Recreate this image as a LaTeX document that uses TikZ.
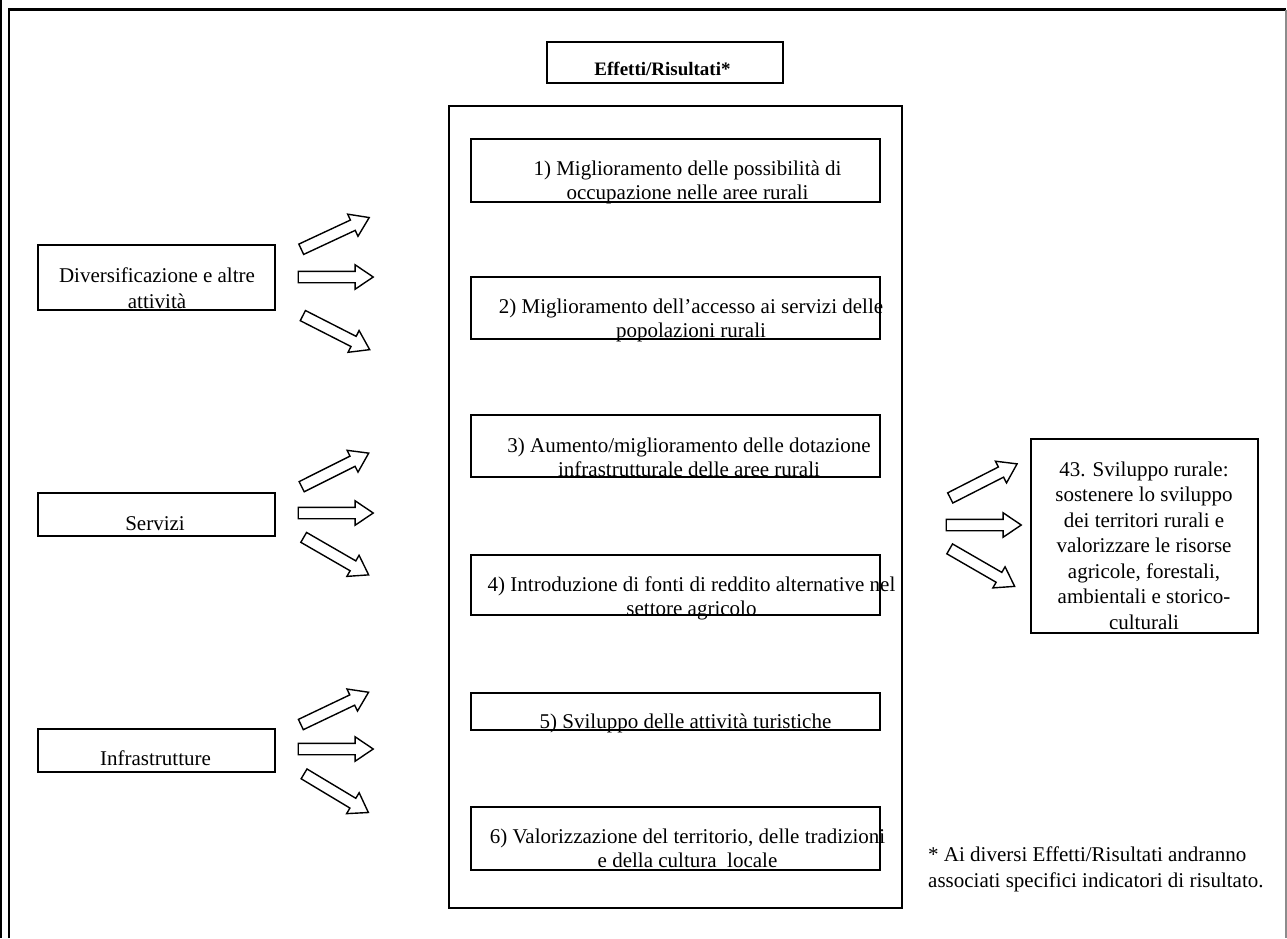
\documentclass[tikz,border=0pt]{standalone}
\usepackage{fontspec}
\setmainfont{Liberation Serif}
\usetikzlibrary{shapes.arrows}
\begin{document}
\begin{tikzpicture}[x=1pt,y=-1pt,
  box/.style={draw, line width=1.6pt, inner sep=0pt},
  txt/.style={font=\fontsize{21}{24}\selectfont, align=center, inner sep=0pt, anchor=base},
  barrow/.style={single arrow, draw, line width=1.4pt, minimum height=75pt,
    inner xsep=0pt, inner ysep=5pt, text height=0pt, text depth=0pt,
    single arrow head extend=6.5pt, single arrow tip angle=68, anchor=center}]
\useasboundingbox (0,0) rectangle (1287,938);
% frame
\draw[line width=2.2pt] (1,0) -- (1,938);
\draw[line width=2.4pt] (8.8,938) -- (8.8,9.5) -- (1286,9.5);
\draw[line width=1.2pt, black!45] (1286,9.5) -- (1286,938);

% title
\node[box, minimum width=236pt, minimum height=41pt] (title) at (665,62.5) {};
\node[font=\fontsize{19}{22}\selectfont\bfseries, inner sep=0pt, anchor=base] (titletxt) at (662.5,75) {Effetti/Risultati*};

% big container
\node[box, minimum width=453pt, minimum height=802pt] (cont) at (675.5,507) {};

% effect boxes
\node[box, minimum width=409pt, minimum height=63pt] (e1) at (675.5,170.5) {};
\node[box, minimum width=409pt, minimum height=62pt] (e2) at (675.5,308) {};
\node[box, minimum width=409pt, minimum height=62pt] (e3) at (675.5,446) {};
\node[box, minimum width=409pt, minimum height=60pt] (e4) at (675.5,585) {};
\node[box, minimum width=409pt, minimum height=37pt] (e5) at (675.5,711.5) {};
\node[box, minimum width=409pt, minimum height=63pt] (e6) at (675.5,838.5) {};

\node[txt] (t1) at (687.5,199) {1) Miglioramento delle possibilità di\\occupazione nelle aree rurali};
\node[txt] (t2) at (691,337) {2) Miglioramento dell’accesso ai servizi delle\\popolazioni rurali};
\node[txt] (t3) at (689,476) {3) Aumento/miglioramento delle dotazione\\infrastrutturale delle aree rurali};
\node[txt] (t4) at (691.5,615) {4) Introduzione di fonti di reddito alternative nel\\settore agricolo};
\node[txt] (t5) at (685.5,728) {5) Sviluppo delle attività turistiche};
\node[txt] (t6) at (687.5,867) {6) Valorizzazione del territorio, delle tradizioni\\e della cultura\ \ locale};

% left boxes
\node[box, minimum width=237pt, minimum height=65pt] (l1) at (156.5,277.5) {};
\node[box, minimum width=237pt, minimum height=43pt] (l2) at (156.5,514.5) {};
\node[box, minimum width=237pt, minimum height=43pt] (l3) at (156.5,750.5) {};
\node[txt, font=\fontsize{21}{26}\selectfont] (lt1) at (157,308) {Diversificazione e altre\\attività};
\node[txt] (lt2) at (155,530) {Servizi};
\node[txt] (lt3) at (155.5,765) {Infrastrutture};

% right box
\node[box, minimum width=227pt, minimum height=194pt] (r) at (1144.5,536) {};
\node[txt, font=\fontsize{21}{25.5}\selectfont] (rt) at (1144,629) {43. Sviluppo rurale:\\sostenere lo sviluppo\\dei territori rurali e\\valorizzare le risorse\\agricole, forestali,\\ambientali e storico-\\culturali};

% footnote
\node[txt, align=left, anchor=base west, font=\fontsize{21}{25.5}\selectfont] (fn) at (928,887) {* Ai diversi Effetti/Risultati andranno\\associati specifici indicatori di risultato.};

% block arrows
\node[barrow, rotate=25] (a1u) at (331.4,235.2) {};
\node[barrow] (a1m) at (331.5,277) {};
\node[barrow, rotate=-27] (a1d) at (332.5,330.7) {};
\node[barrow, rotate=26.6] (a2u) at (331.4,471.8) {};
\node[barrow] (a2m) at (331.5,513) {};
\node[barrow, rotate=-30] (a2d) at (332.5,554) {};
\node[barrow, rotate=25.5] (a3u) at (330.9,710.2) {};
\node[barrow] (a3m) at (331.5,749) {};
\node[barrow, rotate=-31] (a3d) at (332.6,791) {};
\node[barrow, rotate=27] (a4u) at (979.9,482.8) {};
\node[barrow] (a4m) at (979.5,525) {};
\node[barrow, rotate=-30] (a4d) at (978.5,565.5) {};
\end{tikzpicture}
\end{document}
